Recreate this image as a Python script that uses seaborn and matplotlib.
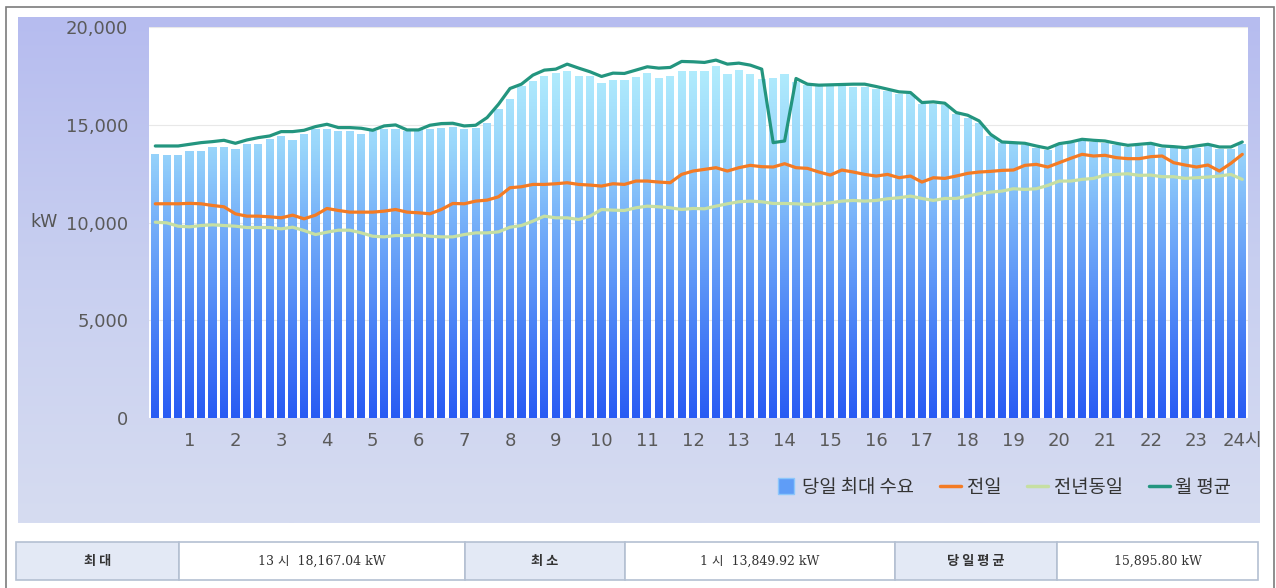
import numpy as np
import pandas as pd
import matplotlib
matplotlib.use("Agg")
import matplotlib.pyplot as plt
import seaborn as sns
from matplotlib.path import Path
from matplotlib.patches import Rectangle
from matplotlib.lines import Line2D
from matplotlib.colors import LinearSegmentedColormap

# 15분 단위 (0:15 ~ 24:00), 96개 구간
hour_labels = [str(h) for h in range(1, 24)] + ["24시"]

demand = [13521, 13452, 13452, 13657, 13657, 13863, 13863, 13777, 14033, 14033, 14256, 14427,
          14221, 14546, 14803, 14803, 14683, 14683, 14546, 14683, 14803, 14803, 14683, 14803,
          14803, 14855, 14888, 14769, 14855, 15110, 15794, 16307, 16990, 17246, 17503, 17640,
          17760, 17503, 17503, 17110, 17281, 17281, 17418, 17640, 17384, 17503, 17760, 17760,
          17760, 18015, 17589, 17811, 17589, 17333, 17384, 17589, 17162, 17025, 16990, 16990,
          16990, 16956, 16956, 16820, 16734, 16598, 16563, 16051, 16085, 16000, 15538, 15367,
          15110, 14427, 14051, 14000, 13965, 13829, 13709, 13965, 14051, 14170, 14119, 14085,
          13965, 13863, 13914, 13965, 13829, 13794, 13743, 13829, 13914, 13777, 13777, 14000]

prev_day = [10957, 10960, 10957, 10980, 10957, 10871, 10803, 10444, 10325, 10325, 10291, 10240,
            10376, 10188, 10376, 10718, 10615, 10530, 10530, 10530, 10581, 10666, 10530, 10497,
            10444, 10666, 10974, 10957, 11094, 11145, 11316, 11778, 11829, 11948, 11948, 11982,
            12034, 11948, 11914, 11863, 11982, 11948, 12120, 12120, 12068, 12034, 12461, 12632,
            12718, 12803, 12632, 12803, 12923, 12855, 12838, 13008, 12803, 12769, 12581, 12428,
            12684, 12581, 12461, 12376, 12461, 12290, 12376, 12068, 12290, 12256, 12376, 12513,
            12581, 12615, 12666, 12684, 12923, 12974, 12838, 13059, 13282, 13487, 13401, 13436,
            13317, 13265, 13265, 13367, 13401, 13059, 12940, 12838, 12940, 12632, 13025, 13487]

last_year = [10017, 9983, 9812, 9778, 9846, 9880, 9846, 9812, 9743, 9743, 9743, 9676,
             9761, 9590, 9384, 9504, 9607, 9607, 9470, 9299, 9265, 9333, 9333, 9367,
             9299, 9265, 9265, 9384, 9470, 9470, 9521, 9760, 9846, 10069, 10325, 10240,
             10240, 10154, 10325, 10666, 10632, 10615, 10752, 10837, 10803, 10752, 10666, 10718,
             10700, 10837, 10957, 11060, 11094, 11060, 10974, 10974, 10957, 10923, 10957, 11008,
             11094, 11128, 11094, 11128, 11214, 11265, 11351, 11231, 11128, 11231, 11231, 11351,
             11470, 11556, 11607, 11727, 11692, 11727, 11897, 12120, 12120, 12205, 12256, 12427,
             12461, 12495, 12410, 12427, 12342, 12342, 12256, 12290, 12324, 12376, 12461, 12205]

month_avg = [13914, 13914, 13914, 14000, 14085, 14137, 14205, 14051, 14221, 14341, 14427, 14649,
             14649, 14717, 14905, 15025, 14855, 14855, 14820, 14717, 14940, 14991, 14735, 14735,
             14974, 15060, 15076, 14939, 14974, 15367, 16051, 16855, 17076, 17538, 17794, 17845,
             18101, 17897, 17709, 17470, 17640, 17624, 17794, 17965, 17897, 17931, 18238, 18221,
             18187, 18307, 18101, 18153, 18050, 17845, 14085, 14170, 17367, 17076, 17025, 17042,
             17059, 17076, 17076, 16956, 16820, 16683, 16649, 16136, 16170, 16102, 15623, 15487,
             15196, 14512, 14119, 14085, 14051, 13914, 13794, 14033, 14119, 14256, 14205, 14170,
             14051, 13948, 14000, 14051, 13914, 13880, 13829, 13914, 14000, 13863, 13863, 14119]

summary_labels = ["최 대", "최 소", "당 일 평 균"]
summary_values = ["13 시  18,167.04 kW", "1 시  13,849.92 kW", "15,895.80 kW"]

df = pd.DataFrame({"slot": np.arange(len(demand)), "demand": demand,
                   "prev_day": prev_day, "last_year": last_year, "month_avg": month_avg})

sns.set_theme(style="white")
plt.rcParams["font.family"] = ["DejaVu Sans", "Noto Sans CJK KR"]

W, H = 1276, 588
fig = plt.figure(figsize=(W / 100, H / 100), dpi=100)
fig.patch.set_facecolor("white")

def fx(px):
    return px / W

def fy(py):
    return 1 - py / H

# 바깥 테두리
fig.add_artist(Rectangle((fx(6), -0.01), fx(1274 - 6), fy(7) + 0.01, transform=fig.transFigure,
                         fill=False, ec="#7c7c7c", lw=1.2))

# 차트 배경 패널 (그라데이션)
bg = fig.add_axes([fx(18), fy(523), fx(1260 - 18), (523 - 17) / H])
panel_cmap = LinearSegmentedColormap.from_list("panel", ["#b6bcef", "#c8cff0", "#d6dcf1"])
bg.imshow(np.linspace(0, 1, 256).reshape(-1, 1), aspect="auto", cmap=panel_cmap,
          extent=[0, 1, 0, 1], origin="upper")
bg.axis("off")

ax = fig.add_axes([fx(149), fy(418), fx(1248 - 149), (418 - 27) / H])
ax.set_facecolor("white")

sns.barplot(data=df, x="slot", y="demand", ax=ax, width=0.72, color="#6fa8f8",
            edgecolor="none", zorder=2)

# 막대 그라데이션 채우기
bar_paths = []
for p in ax.patches:
    x0, y0, w, h = p.get_x(), p.get_y(), p.get_width(), p.get_height()
    bar_paths.append(Path([(x0, y0), (x0 + w, y0), (x0 + w, y0 + h), (x0, y0 + h), (x0, y0)],
                          [Path.MOVETO, Path.LINETO, Path.LINETO, Path.LINETO, Path.CLOSEPOLY]))
    p.set_visible(False)
clip = Path.make_compound_path(*bar_paths)
bar_cmap = LinearSegmentedColormap.from_list(
    "bars", [(0, "#285bf3"), (0.25, "#4c84f6"), (0.5, "#76b0f9"), (0.7, "#9ad7fb"),
             (0.9, "#b2edfd"), (1, "#c2f4fe")])
im = ax.imshow(np.linspace(0, 1, 256).reshape(-1, 1), aspect="auto", cmap=bar_cmap,
               extent=[-0.55, 95.5, 0, 20000], origin="lower", zorder=2)
im.set_clip_path(clip, ax.transData)

sns.lineplot(data=df, x="slot", y="prev_day", ax=ax, color="#f47b24", lw=2.3, zorder=3)
sns.lineplot(data=df, x="slot", y="last_year", ax=ax, color="#c6dfa2", lw=2.3, zorder=3)
sns.lineplot(data=df, x="slot", y="month_avg", ax=ax, color="#23957f", lw=2.3, zorder=4)

ax.set_xlim(-0.55, 95.5)
ax.set_ylim(0, 20000)
ax.set_yticks([0, 5000, 10000, 15000, 20000])
ax.set_yticklabels(["0", "5,000", "10,000", "15,000", "20,000"])
ax.set_xticks([4 * h - 1 for h in range(1, 25)])
ax.set_xticklabels(hour_labels)
ax.tick_params(axis="y", length=0, pad=15, labelsize=13, labelcolor="#5a5a5a")
ax.tick_params(axis="x", length=0, pad=10, labelsize=13, labelcolor="#5a5a5a")
ax.yaxis.grid(True, color="#e8e8e8", lw=0.8)
ax.set_axisbelow(True)
ax.set_xlabel("")
ax.set_ylabel("")
for s in ax.spines.values():
    s.set_visible(False)

fig.text(fx(44), fy(222), "kW", ha="center", va="center", fontsize=12.5, color="#555555")

# 범례
handles = [Line2D([], [], marker="s", ls="none", markersize=11, markerfacecolor="#5f9df7",
                  markeredgecolor="#8cc6fb"),
           Line2D([], [], color="#f47b24", lw=2.5),
           Line2D([], [], color="#c6dfa2", lw=2.5),
           Line2D([], [], color="#23957f", lw=2.5)]
labels = ["당일 최대 수요", "전일", "전년동일", "월 평균"]
leg = fig.legend(handles, labels, loc="center right", bbox_to_anchor=(fx(1248), fy(487)),
                 ncol=4, frameon=False, handlelength=1.1, handletextpad=0.3,
                 columnspacing=1.4, prop={"family": ["Noto Sans CJK KR"], "size": 13.5})
for t in leg.get_texts():
    t.set_color("#333333")

# 하단 요약 표
tb = fig.add_axes([0, 0, 1, 1], facecolor="none")
tb.set_xlim(0, W)
tb.set_ylim(H, 0)
tb.axis("off")
edges = [16, 179, 465, 625, 895, 1057, 1258]
top, bottom = 542, 580
for i in range(6):
    face = "#e3e9f5" if i % 2 == 0 else "white"
    tb.add_patch(Rectangle((edges[i], top), edges[i + 1] - edges[i], bottom - top,
                           fc=face, ec="#b4c0d2", lw=1.2))
    cx = (edges[i] + edges[i + 1]) / 2
    if i % 2 == 0:
        tb.text(cx, (top + bottom) / 2, summary_labels[i // 2], ha="center", va="center",
                fontsize=9.5, fontweight="bold", color="#333333",
                family=["Noto Sans CJK KR", "DejaVu Sans"])
    else:
        tb.text(cx, (top + bottom) / 2, summary_values[i // 2], ha="center", va="center",
                fontsize=9, color="#333333", family=["DejaVu Serif", "Noto Sans CJK KR"])

fig.savefig("out.png", dpi=100)
